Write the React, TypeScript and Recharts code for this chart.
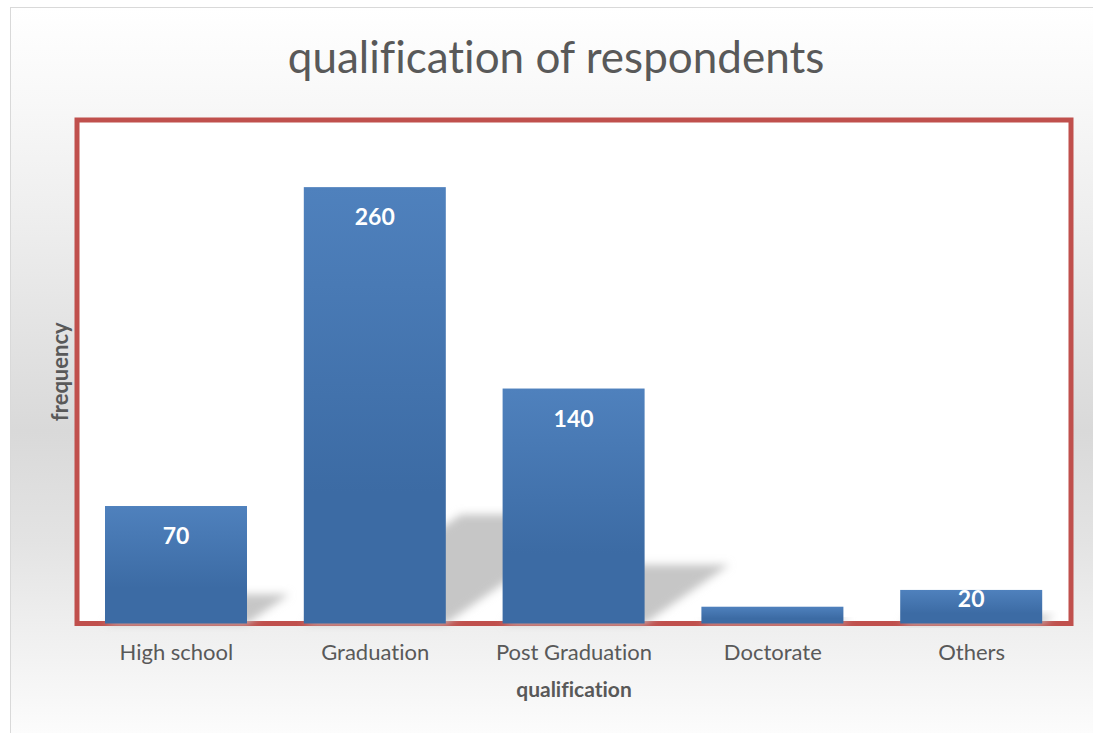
import React from 'react';
import { Bar, BarChart, Label, LabelList, ReferenceArea, XAxis, YAxis } from 'recharts';

const categories = ['High school', 'Graduation', 'Post Graduation', 'Doctorate', 'Others'];
const frequency = [70, 260, 140, 10, 20];
const yDomain = [0, 300];

const data = categories.map((name, i) => ({ name, frequency: frequency[i] }));

const FONT = 'Lato, "Open Sans", sans-serif';
const TEXT = '#595959';

// bar with a skewed floor shadow behind it
const ShadowBar = (props: any) => {
    const { x, y, width, height } = props;
    if (!height || height <= 0) return null;
    const base = y + height;
    const dx = height * 0.36;
    const dy = height * 0.25;
    const pts = `${x},${base} ${x + width},${base} ${x + width + dx},${base - dy} ${x + dx},${base - dy}`;
    return (
        <g>
            <polygon points={pts} fill="#c6c6c6" filter="url(#shadowBlur)" />
            <rect x={x} y={y} width={width} height={height} fill="url(#barFill)" />
        </g>
    );
};

const ValueLabel = (props: any) => {
    const { x, y, width, height, value } = props;
    if (height < 20) return null;
    const cy = Math.min(y + 29, y + height - 26);
    return (
        <text
            x={x + width / 2}
            y={cy}
            textAnchor="middle"
            dominantBaseline="central"
            fill="#ffffff"
            fontSize={23}
            fontWeight={700}
            fontFamily={FONT}
        >
            {value}
        </text>
    );
};

export default function App() {
    return (
        <div
            style={{
                position: 'absolute',
                left: 0,
                top: 0,
                width: 1093,
                height: 733,
                overflow: 'hidden',
                background: '#fff',
                fontVariantLigatures: 'none'
            }}
        >
            <div
                style={{
                    position: 'absolute',
                    left: 10,
                    top: 7,
                    width: 1120,
                    height: 760,
                    border: '1px solid #d9d9d9',
                    background:
                        'linear-gradient(to bottom, #ffffff 0px, #f8f8f8 93px, #ebebeb 243px, #d9d9d9 423px, #e3e3e3 533px, #eeeeee 613px, #fcfcfc 726px)'
                }}
            />
            <svg width={1093} height={100} style={{ position: 'absolute', left: 0, top: 0 }}>
                <text x={556} y={73} textAnchor="middle" fontFamily={FONT} fontSize={44} fill={TEXT}>
                    qualification of respondents
                </text>
            </svg>
            <div style={{ position: 'absolute', left: 0, top: 0 }}>
                <BarChart
                    width={1093}
                    height={733}
                    data={data}
                    margin={{ top: 120, right: 22, left: 17, bottom: 20 }}
                    style={{ fontFamily: FONT }}
                >
                    <defs>
                        <linearGradient id="barFill" x1="0" y1="0" x2="0" y2="1">
                            <stop offset="0%" stopColor="#4f81bd" />
                            <stop offset="70%" stopColor="#3c6ba4" />
                            <stop offset="100%" stopColor="#3c6ba4" />
                        </linearGradient>
                        <filter id="shadowBlur" x="-20%" y="-50%" width="140%" height="200%">
                            <feGaussianBlur stdDeviation="4" />
                        </filter>
                    </defs>
                    <ReferenceArea
                        y1={0}
                        y2={300}
                        fill="#ffffff"
                        fillOpacity={1}
                        stroke="#c0504d"
                        strokeWidth={5}
                        ifOverflow="visible"
                    />
                    <XAxis
                        dataKey="name"
                        height={89.5}
                        axisLine={false}
                        tickLine={false}
                        tickSize={0}
                        tickMargin={21}
                        tick={{ fill: TEXT, fontSize: 22, fontFamily: FONT }}
                        interval={0}
                    >
                        <Label
                            value="qualification"
                            position="insideBottom"
                            offset={16}
                            fill={TEXT}
                            fontSize={21}
                            fontWeight={700}
                            fontFamily={FONT}
                        />
                    </XAxis>
                    <YAxis
                        domain={yDomain}
                        width={60}
                        axisLine={false}
                        tickLine={false}
                        tick={false}
                    >
                        <Label
                            value="frequency"
                            angle={-90}
                            position="center"
                            dx={13}
                            fill={TEXT}
                            fontSize={22}
                            fontWeight={700}
                            fontFamily={FONT}
                        />
                    </YAxis>
                    <Bar dataKey="frequency" barSize={142} shape={ShadowBar} isAnimationActive={false}>
                        <LabelList dataKey="frequency" content={ValueLabel} />
                    </Bar>
                </BarChart>
            </div>
        </div>
    );
}
